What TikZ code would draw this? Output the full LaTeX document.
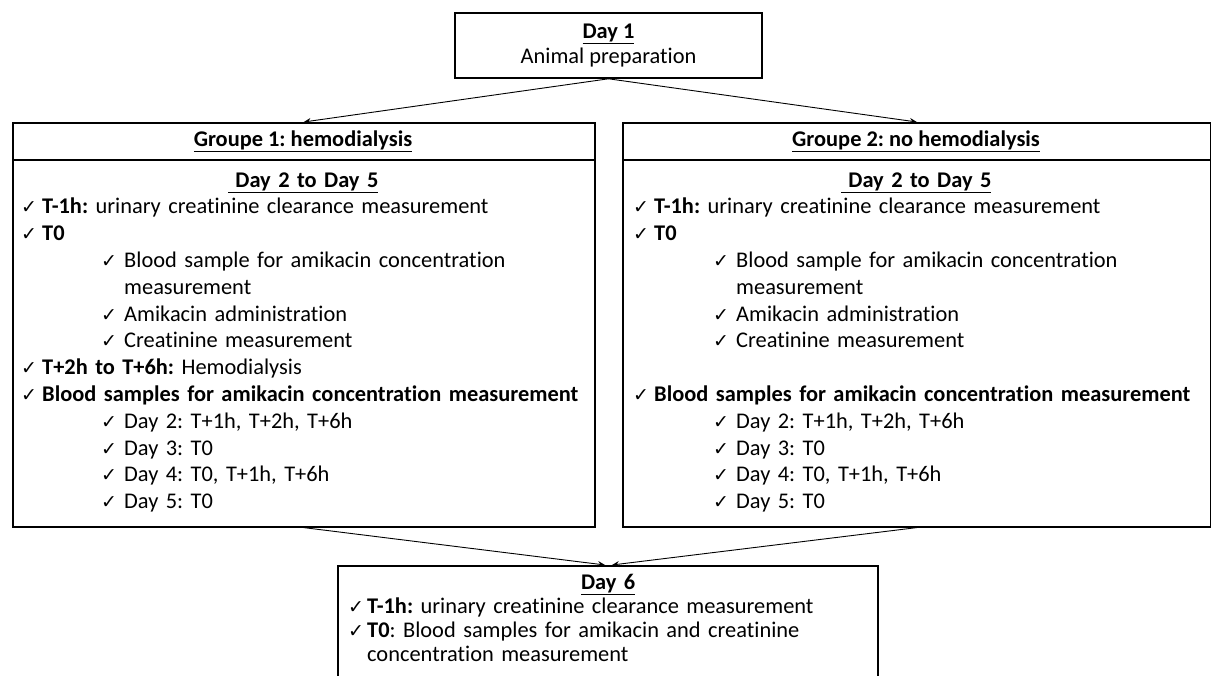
\documentclass[tikz,border=0pt]{standalone}
\usepackage{fontspec}
\setmainfont{Carlito}[Ligatures=NoCommon]
\newfontfamily\symfont{DejaVu Sans}
\usetikzlibrary{arrows.meta}
\frenchspacing

\newcommand{\chk}{{\symfont\fontsize{19}{19}\selectfont ✓}}
\newcommand{\boxfont}{\fontsize{22.4}{26.8}\selectfont}
\newcommand{\dayfont}{\fontsize{22.4}{24}\selectfont}
% check mark item: #1 indent, #2 width of the mark
\newcommand{\itm}[2]{\strut\hspace*{#1}\makebox[#2][l]{\chk}}
\newcommand{\titleline}[1]{\strut\makebox[\linewidth]{\underline{\textbf{#1}}}}

\tikzset{
	box/.style={draw, line width=1.6, inner sep=0},
	listtext/.style={font=\boxfont, inner sep=0, anchor=north west, align=left},
	flow/.style={-{Stealth[length=7,width=6]}, line width=0.9},
}

\begin{document}
\begin{tikzpicture}[x=1pt,y=-1pt]
	\useasboundingbox (0,0) rectangle (1211,676);
	\clip (0,0) rectangle (1211,676);
	
	% day 1
	\node[box, minimum width=307, minimum height=65, align=center, font={\fontsize{22.4}{25}\selectfont}] (d1) at (608.5,45.5) {\underline{\textbf{Day 1}}\\Animal preparation};
	
	% groupe 1
	\node[box, minimum width=582, minimum height=404, anchor=north west] (g1) at (12,122) {};
	\node[font=\boxfont] (g1h) at (303,141) {\underline{\textbf{Groupe 1: hemodialysis}}};
	\draw[line width=1.6] (g1.west |- 0,160) -- (g1.east |- 0,160);
	\node[listtext, text width=582] (g1l) at (12,168.2) {%
		\titleline{\ Day 2 to Day 5}\\
		\itm{9pt}{21pt}\textbf{T-1h:} urinary creatinine clearance measurement\\
		\itm{9pt}{21pt}\textbf{T0}\\
		\itm{89pt}{23pt}Blood sample for amikacin concentration\\
		\strut\hspace*{112pt}measurement\\
		\itm{89pt}{23pt}Amikacin administration\\
		\itm{89pt}{23pt}Creatinine measurement\\
		\itm{9pt}{21pt}\textbf{T+2h to T+6h:} Hemodialysis\\
		\itm{9pt}{21pt}\textbf{Blood samples for amikacin concentration measurement}\\
		\itm{89pt}{23pt}Day 2: T+1h, T+2h, T+6h\\
		\itm{89pt}{23pt}Day 3: T0\\
		\itm{89pt}{23pt}Day 4: T0, T+1h, T+6h\\
		\itm{89pt}{23pt}Day 5: T0};
	
	% groupe 2
	\node[box, minimum width=588, minimum height=404, anchor=north west] (g2) at (622,122) {};
	\node[font=\boxfont] (g2h) at (916,141) {\underline{\textbf{Groupe 2: no hemodialysis}}};
	\draw[line width=1.6] (g2.west |- 0,160) -- (g2.east |- 0,160);
	\node[listtext, text width=588] (g2l) at (622,168.2) {%
		\titleline{\ Day 2 to Day 5}\\
		\itm{11pt}{21pt}\textbf{T-1h:} urinary creatinine clearance measurement\\
		\itm{11pt}{21pt}\textbf{T0}\\
		\itm{91pt}{23pt}Blood sample for amikacin concentration\\
		\strut\hspace*{114pt}measurement\\
		\itm{91pt}{23pt}Amikacin administration\\
		\itm{91pt}{23pt}Creatinine measurement\\
		\strut\\
		\itm{11pt}{21pt}\textbf{Blood samples for amikacin concentration measurement}\\
		\itm{91pt}{23pt}Day 2: T+1h, T+2h, T+6h\\
		\itm{91pt}{23pt}Day 3: T0\\
		\itm{91pt}{23pt}Day 4: T0, T+1h, T+6h\\
		\itm{91pt}{23pt}Day 5: T0};
	
	% day 6
	\node[box, minimum width=540, minimum height=150, anchor=north] (d6) at (608,565) {};
	\node[listtext, font=\dayfont, text width=540] (d6l) at (338,572) {%
		\titleline{Day 6}\\
		\itm{10pt}{19pt}\textbf{T-1h:} urinary creatinine clearance measurement\\
		\itm{10pt}{19pt}\textbf{T0}: Blood samples for amikacin and creatinine\\
		\strut\hspace*{29pt}concentration measurement};
	
	\draw[flow] (d1.south) -- (g1.north);
	\draw[flow] (d1.south) -- (g2.north);
	\draw[flow] (g1.south) -- ([xshift=-3]d6.north);
	\draw[flow] (g2.south) -- ([xshift=4]d6.north);
\end{tikzpicture}
\end{document}
